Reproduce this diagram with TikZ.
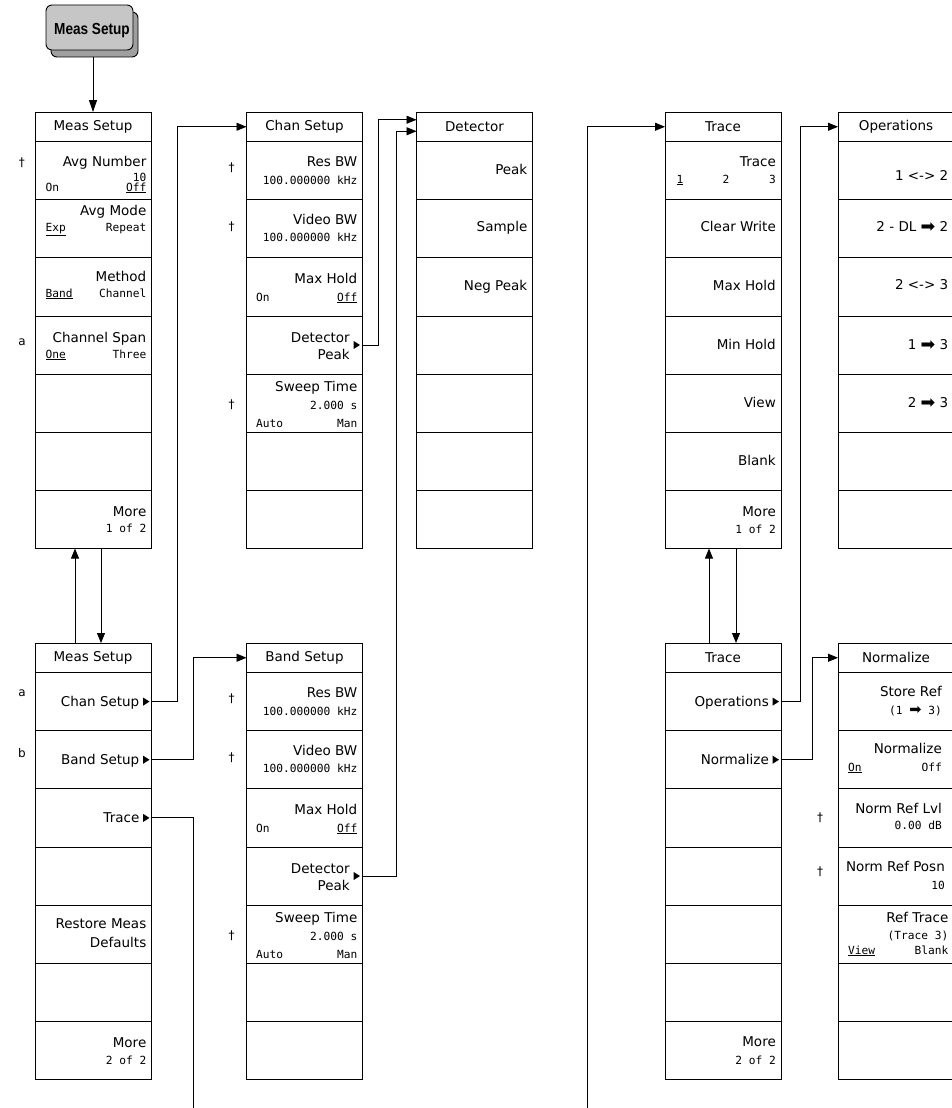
\documentclass[tikz,border=0pt]{standalone}
\usepackage{fontspec}
\usetikzlibrary{arrows.meta,calc}
\newfontfamily\mainf{DejaVu Sans}
\newfontfamily\monof{DejaVu Sans Mono}
\newfontfamily\hkf{Liberation Sans}
\newcommand\mfont{\mainf\fontsize{13.5}{15}\selectfont}
\newcommand\sfnt{\monof\fontsize{11.2}{12}\selectfont}
\newcommand\arr{{\mainf\raisebox{-0.1ex}{\scalebox{1.3}{➡}}}}
\tikzset{
 keybox/.style={draw, line width=0.9pt, inner sep=0pt, outer sep=0pt, minimum width=116pt},
 titlebox/.style={keybox, minimum height=29.5pt, font=\mfont},
 rowbox/.style={keybox, minimum height=58.15pt},
 conn/.style={line width=0.9pt, -{Triangle[length=10pt,width=8pt]}},
 wire/.style={line width=0.9pt},
 mainlab/.style={inner sep=0pt, font=\mfont},
 smlab/.style={inner sep=0pt, font=\sfnt},
 sidelab/.style={inner sep=0pt, font=\mainf\fontsize{12}{14}\selectfont},
 hardkey/.style={draw, line width=0.9pt, rounded corners=6pt, minimum width=87pt, minimum height=45pt, inner sep=0pt},
}
\newcommand\menucol[4]{%
  \node[titlebox, anchor=north west] (#1-t) at (#2,#3) {#4};
  \foreach \k in {1,...,7} {
    \node[rowbox, anchor=north west] (#1-\k) at (#2,{#3+29.5+58.15*(\k-1)}) {};
  }
}
\newcommand\ML[4]{\node[mainlab,anchor=base east] (#1) at (#2,{#3+4.9}) {#4};}
\newcommand\SR[4]{\node[smlab,anchor=base east] (#1) at (#2,{#3+4}) {#4};}
\newcommand\SL[4]{\node[smlab,anchor=base west] (#1) at (#2,{#3+4}) {#4};}
\newcommand\tri[2]{\fill ({#1-6.3},{#2-4}) -- (#1,#2) -- ({#1-6.3},{#2+4}) -- cycle;}
\begin{document}
\begin{tikzpicture}[x=1pt,y=-1pt]
\path[use as bounding box] (0,0) rectangle (952,1108);
\clip (0,0) rectangle (952,1108);
\fill[white] (0,0) rectangle (952,1108);

% hard key
\node[hardkey, fill=gray!75] (hks) at (94.5,34.5) {};
\node[hardkey, fill=gray!45] (hk) at (89.5,27.5) {};
\node[inner sep=0pt, font=\hkf\bfseries\fontsize{16}{18}\selectfont] (hkl) at (92,31) {\scalebox{0.85}[1]{Meas Setup}};

% menu columns
\menucol{ms1}{35}{112}{Meas Setup}
\menucol{ms2}{35}{643}{Meas Setup}
\menucol{cs}{246.5}{112}{Chan Setup}
\menucol{bs}{246.5}{643}{Band Setup}
\menucol{det}{416.5}{112}{Detector}
\menucol{tr1}{665}{112}{Trace}
\menucol{tr2}{665}{643}{Trace}
\menucol{ops}{838}{112}{Operations}
\menucol{nrm}{838}{643}{Normalize}

% Meas Setup 1 of 2
\ML{a1}{146.5}{162}{Avg Number}
\SR{a2}{146.5}{177}{10}
\SL{a3}{45.5}{187}{On}
\SR{a4}{146.5}{187}{\underline{Off}}
\ML{a5}{146.5}{211}{Avg Mode}
\SL{a6}{45.5}{227}{\underline{Exp}}
\SR{a7}{146.5}{227}{Repeat}
\ML{a8}{146.5}{277}{Method}
\SL{a9}{45.5}{293}{\underline{Band}}
\SR{a10}{146.5}{293}{Channel}
\ML{a11}{146.5}{338}{Channel Span}
\SL{a12}{45.5}{354}{\underline{One}}
\SR{a13}{146.5}{354}{Three}
\ML{a14}{146.5}{512}{More}
\SR{a15}{146.5}{528}{1 of 2}
\node[sidelab] (s1) at (22,163) {†};
\node[sidelab] (s2) at (22,342) {a};

% Meas Setup 2 of 2
\ML{b1}{139.5}{701.6}{Chan Setup} \tri{149.5}{701.6}
\ML{b2}{139.5}{759.7}{Band Setup} \tri{149.5}{759.7}
\ML{b3}{139.5}{817.9}{Trace} \tri{149.5}{817.9}
\ML{b4}{146.5}{924}{Restore Meas}
\ML{b5}{146.5}{943}{Defaults}
\ML{b6}{146.5}{1043}{More}
\SR{b7}{146.5}{1060}{2 of 2}
\node[sidelab] (s3) at (22,693) {a};
\node[sidelab] (s4) at (22,753) {b};

% Chan Setup
\ML{c1}{357.5}{162}{Res BW}
\SR{c2}{357.5}{180}{100.000000 kHz}
\ML{c3}{357.5}{220}{Video BW}
\SR{c4}{357.5}{237.5}{100.000000 kHz}
\ML{c5}{357.5}{279}{Max Hold}
\SL{c6}{256}{297}{On}
\SR{c7}{357.5}{297}{\underline{Off}}
\ML{c8}{350}{337.5}{Detector}
\ML{c9}{350}{355}{Peak}
\tri{360}{345}
\ML{c10}{357.5}{387}{Sweep Time}
\SR{c11}{357.5}{405}{2.000 s}
\SL{c12}{256}{423}{Auto}
\SR{c13}{357.5}{423}{Man}
\node[sidelab] (s5) at (231.5,168) {†};
\node[sidelab] (s6) at (231.5,227) {†};
\node[sidelab] (s7) at (231.5,405) {†};

% Band Setup
\ML{k1}{357.5}{693}{Res BW}
\SR{k2}{357.5}{711}{100.000000 kHz}
\ML{k3}{357.5}{751}{Video BW}
\SR{k4}{357.5}{768.5}{100.000000 kHz}
\ML{k5}{357.5}{810}{Max Hold}
\SL{k6}{256}{828}{On}
\SR{k7}{357.5}{828}{\underline{Off}}
\ML{k8}{350}{868.5}{Detector}
\ML{k9}{350}{886}{Peak}
\tri{360}{876}
\ML{k10}{357.5}{918}{Sweep Time}
\SR{k11}{357.5}{936}{2.000 s}
\SL{k12}{256}{954}{Auto}
\SR{k13}{357.5}{954}{Man}
\node[sidelab] (s8) at (231.5,699) {†};
\node[sidelab] (s9) at (231.5,758) {†};
\node[sidelab] (s10) at (231.5,936) {†};

% Detector
\ML{d1}{527.5}{170}{Peak}
\ML{d2}{527.5}{227}{Sample}
\ML{d3}{527.5}{286}{Neg Peak}

% Trace 1 of 2
\ML{e1}{776}{162}{Trace}
\SL{e2}{676.5}{179}{\underline{1}}
\node[smlab, anchor=base] (e3) at (726,183) {2};
\SR{e4}{776}{179}{3}
\ML{e5}{776}{227}{Clear Write}
\ML{e6}{776}{286}{Max Hold}
\ML{e7}{776}{345}{Min Hold}
\ML{e8}{776}{403}{View}
\ML{e9}{776}{461}{Blank}
\ML{e10}{776}{512}{More}
\SR{e11}{776}{529}{1 of 2}

% Trace 2 of 2
\ML{f1}{769}{701.6}{Operations} \tri{779}{701.6}
\ML{f2}{769}{759.7}{Normalize} \tri{779}{759.7}
\ML{f3}{776}{1042}{More}
\SR{f4}{776}{1060}{2 of 2}

% Operations
\ML{g1}{948.5}{176}{1 <-> 2}
\ML{g2}{948.5}{227}{2 - DL \arr\ 2}
\ML{g3}{948.5}{285}{2 <-> 3}
\ML{g4}{948.5}{345}{1 \arr\ 3}
\ML{g5}{948.5}{403}{2 \arr\ 3}

% Normalize
\ML{h1}{942}{692}{Store Ref}
\SR{h2}{942}{710}{(1 \arr\ 3)}
\ML{h3}{942}{749}{Normalize}
\SL{h4}{848}{767}{\underline{On}}
\SR{h5}{942}{767}{Off}
\ML{h6}{942}{809}{Norm Ref Lvl}
\SR{h7}{942}{825}{0.00 dB}
\ML{h8}{945}{867}{Norm Ref Posn}
\SR{h9}{945}{885}{10}
\ML{h10}{948.5}{918}{Ref Trace}
\SR{h11}{948.5}{935}{(Trace 3)}
\SL{h12}{848}{950}{\underline{View}}
\SR{h13}{948.5}{950}{Blank}
\node[sidelab] (s11) at (820,818) {†};
\node[sidelab] (s12) at (820,872) {†};

% connectors
\coordinate (cutL) at (193,1112);
\coordinate (cutR) at (587,1112);
\draw[line width=0.9pt, -{Triangle[length=12pt,width=8pt]}] (hks.south -| ms1-t.north) -- (ms1-t.north);
\draw[conn] ([xshift=-18pt]ms2-t.north) -- ([xshift=-18pt]ms1-7.south);
\draw[conn] ([xshift=8pt]ms1-7.south) -- ([xshift=8pt]ms2-t.north);
\draw[conn] (ms2-1.east) -- ++(26,0) |- (cs-t.west);
\draw[conn] (ms2-2.east) -- ++(42,0) |- (bs-t.west);
\draw[wire] (ms2-3.east) -| (cutL);
\draw[conn] (cutR) |- (tr1-t.west);
\draw[conn] (cs-4.east) -- ++(16,0) |- ([yshift=7pt]det-t.west);
\draw[conn] (bs-4.east) -- ++(33.5,0) |- ([yshift=-4.5pt]det-t.west);
\draw[conn] ([xshift=-14pt]tr2-t.north) -- ([xshift=-14pt]tr1-7.south);
\draw[conn] ([xshift=13pt]tr1-7.south) -- ([xshift=13pt]tr2-t.north);
\draw[conn] (tr2-1.east) -- ++(19,0) |- (ops-t.west);
\draw[conn] (tr2-2.east) -- ++(31,0) |- (nrm-t.west);
\end{tikzpicture}
\end{document}
